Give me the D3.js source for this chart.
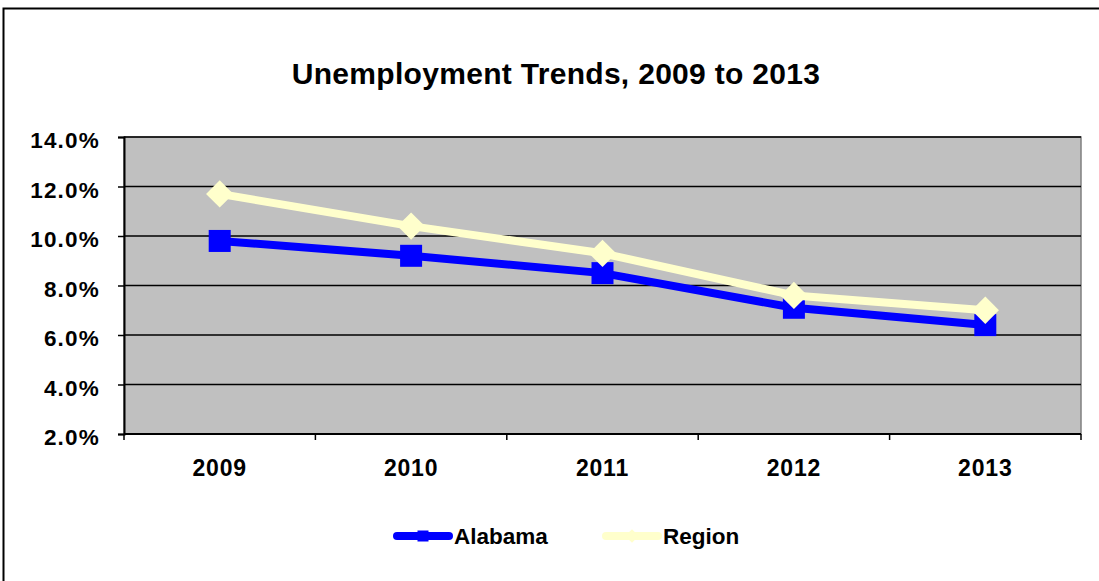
<!DOCTYPE html>
<html>
<head>
<meta charset="utf-8">
<script src="https://cdn.jsdelivr.net/npm/d3@7"></script>
<style>
  body { margin: 0; background: #fff; }
  svg { display: block; font-family: "Liberation Sans", Arial, sans-serif; }
</style>
</head>
<body>
<svg id="canvas" width="1099" height="581"></svg>
<script>
// chart data
var years = ["2009", "2010", "2011", "2012", "2013"];
var alabama = [9.8, 9.2, 8.5, 7.1, 6.4];
var region = [11.7, 10.4, 9.3, 7.6, 7.0];
var yTicks = [2, 4, 6, 8, 10, 12, 14];

var plot = {left: 124, top: 137, right: 1081, bottom: 434};

var svg = d3.select("#canvas");

// outer frame
svg.append("rect")
    .attr("x", 3.5).attr("y", 8.5)
    .attr("width", 1110).attr("height", 600)
    .attr("fill", "#fff")
    .attr("stroke", "#000")
    .attr("stroke-width", 2);

svg.append("text")
    .attr("x", 556).attr("y", 84)
    .attr("text-anchor", "middle")
    .style("font-size", "30px")
    .style("font-weight", "bold")
    .style("letter-spacing", "0.3px")
    .text("Unemployment Trends, 2009 to 2013");

var x = d3.scaleBand()
    .domain(years)
    .range([plot.left, plot.right]);

var y = d3.scaleLinear()
    .domain([2, 14])
    .range([plot.bottom, plot.top]);

// plot background
svg.append("rect")
    .attr("x", plot.left).attr("y", plot.top)
    .attr("width", plot.right - plot.left)
    .attr("height", plot.bottom - plot.top)
    .attr("fill", "#c0c0c0")
    .attr("stroke", "#808080")
    .attr("stroke-width", 1.5);

// gridlines
svg.selectAll(".grid")
    .data(yTicks)
    .enter().append("line")
    .attr("x1", plot.left).attr("x2", plot.right)
    .attr("y1", d => y(d)).attr("y2", d => y(d))
    .attr("stroke", "#000")
    .attr("stroke-width", 1.5);

// y axis
var yAxis = d3.axisLeft(y)
    .tickValues(yTicks)
    .tickSize(6)
    .tickPadding(6)
    .tickFormat(d => d.toFixed(1) + "%");

var gy = svg.append("g")
    .attr("transform", "translate(" + plot.left + ",0)")
    .call(yAxis);
gy.select(".domain").attr("stroke", "#000").attr("stroke-width", 2);
gy.selectAll(".tick line").attr("stroke", "#000").attr("stroke-width", 1.5);
gy.selectAll(".tick text")
    .attr("fill", "#000")
    .attr("x", -24)
    .attr("dy", "0.48em")
    .style("font-size", "22.5px")
    .style("font-weight", "bold")
    .style("letter-spacing", "1.2px")
    .style("font-family", "Liberation Sans, Arial, sans-serif");

// x axis: ticks at category boundaries
var gx = svg.append("g")
    .attr("transform", "translate(0," + plot.bottom + ")");
gx.append("line")
    .attr("x1", plot.left).attr("x2", plot.right)
    .attr("stroke", "#000").attr("stroke-width", 2);
var bounds = years.map(d => x(d)).concat([plot.right]);
gx.selectAll(".xt")
    .data(bounds)
    .enter().append("line")
    .attr("x1", d => d).attr("x2", d => d)
    .attr("y1", 0).attr("y2", 6)
    .attr("stroke", "#000").attr("stroke-width", 1.5);
gx.selectAll(".xl")
    .data(years)
    .enter().append("text")
    .attr("x", d => x(d) + x.bandwidth() / 2)
    .attr("y", 42)
    .attr("text-anchor", "middle")
    .style("font-size", "23px")
    .style("font-weight", "bold")
    .style("letter-spacing", "0.8px")
    .text(d => d);

var line = d3.line()
    .x((d, i) => x(years[i]) + x.bandwidth() / 2)
    .y(d => y(d));

var series = [
    {name: "Alabama", values: alabama, color: "#0000ff", marker: "square"},
    {name: "Region", values: region, color: "#ffffcc", marker: "diamond"}
];

function drawMarker(g, s, cx, cy, size) {
    if (s.marker === "square") {
        g.append("rect")
            .attr("x", cx - size / 2).attr("y", cy - size / 2)
            .attr("width", size).attr("height", size)
            .attr("fill", s.color);
    } else {
        var h = size * 0.62;
        g.append("path")
            .attr("d", "M" + cx + "," + (cy - h) + "L" + (cx + h) + "," + cy +
                "L" + cx + "," + (cy + h) + "L" + (cx - h) + "," + cy + "Z")
            .attr("fill", s.color);
    }
}

series.forEach(function(s) {
    svg.append("path")
        .datum(s.values)
        .attr("d", line)
        .attr("fill", "none")
        .attr("stroke", s.color)
        .attr("stroke-width", 8)
        .attr("stroke-linejoin", "round");
    var g = svg.append("g");
    s.values.forEach(function(v, i) {
        drawMarker(g, s, x(years[i]) + x.bandwidth() / 2, y(v), 22);
    });
});

// legend
var legendX = [397, 606];
series.forEach(function(s, i) {
    var lx = legendX[i], ly = 536;
    var g = svg.append("g");
    g.append("line")
        .attr("x1", lx).attr("x2", lx + 52)
        .attr("y1", ly).attr("y2", ly)
        .attr("stroke", s.color)
        .attr("stroke-width", 8)
        .attr("stroke-linecap", "round");
    drawMarker(g, s, lx + 26, ly, 11);
    g.append("text")
        .attr("x", lx + 57).attr("y", ly + 8)
        .style("font-size", "22.5px")
        .style("font-weight", "bold")
        .text(s.name);
});
</script>
</body>
</html>
